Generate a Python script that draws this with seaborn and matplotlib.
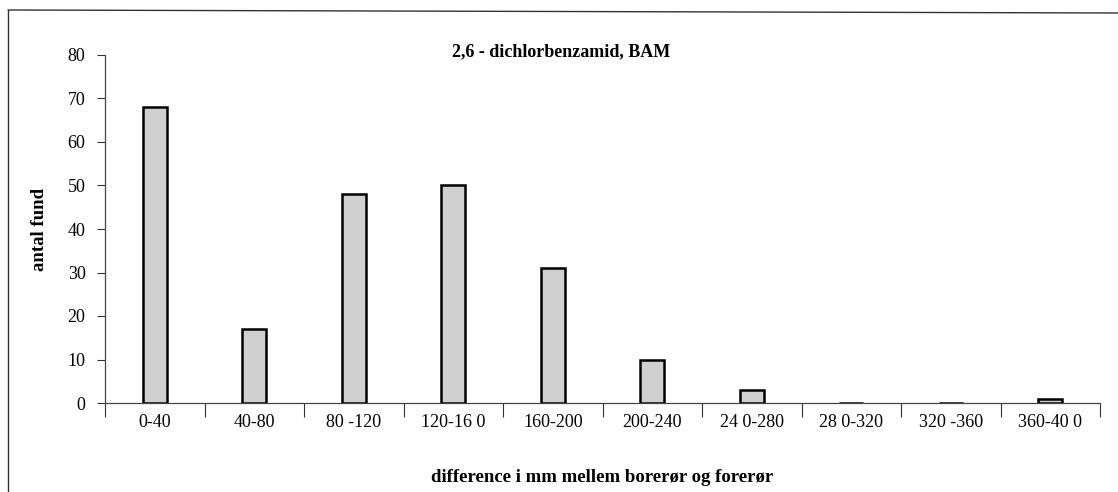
import matplotlib
matplotlib.use("Agg")
import matplotlib.pyplot as plt
import seaborn as sns
import pandas as pd
import numpy as np
from matplotlib.lines import Line2D

categories = ["0-40", "40-80", "80 -120", "120-16 0", "160-200", "200-240",
              "24 0-280", "28 0-320", "320 -360", "360-40 0"]
counts = [68, 17, 48, 50, 31, 10, 3, 0, 0, 1]
yticks = [0, 10, 20, 30, 40, 50, 60, 70, 80]
title = "2,6 - dichlorbenzamid, BAM"
xlabel = "difference i mm mellem borerør og forerør"
ylabel = "antal fund"

sns.set_style("white")
plt.rcParams['font.family'] = ['Liberation Serif', 'DejaVu Serif']
plt.rcParams['text.color'] = 'black'
plt.rcParams['axes.labelcolor'] = 'black'
plt.rcParams['xtick.color'] = 'black'
plt.rcParams['ytick.color'] = 'black'

df = pd.DataFrame({"cat": categories, "n": counts})

fig = plt.figure(figsize=(11.18, 4.92), dpi=100)
ax = fig.add_axes([105/1118, (492-403)/492, (1100-105)/1118, (403-55)/492])

sns.barplot(data=df, x="cat", y="n", ax=ax, width=0.24, color="#cfcfcf",
            edgecolor="black", linewidth=1.8, saturation=1)

ax.set_xlim(-0.5, len(categories) - 0.5)
ax.set_ylim(0, 80)
ax.set_yticks(yticks)
ax.set_yticklabels([str(v) for v in yticks], fontsize=13)

# x tick labels at category centers, tick marks at boundaries
ax.set_xticks(range(len(categories)))
ax.set_xticklabels(categories, fontsize=13)
ax.set_xticks(np.arange(-0.5, len(categories), 1.0), minor=True)
ax.tick_params(axis='x', which='both', bottom=True)
ax.tick_params(axis='y', which='both', left=True)
ax.tick_params(axis='x', which='major', length=0, pad=8)
ax.tick_params(axis='x', which='minor', length=10, width=0.8, color='#333333', direction='out')
ax.tick_params(axis='y', which='major', length=6, width=0.8, color='#333333', direction='out', pad=8)

for s in ["top", "right"]:
    ax.spines[s].set_visible(False)
for s in ["left", "bottom"]:
    ax.spines[s].set_visible(True)
    ax.spines[s].set_color("#444444")
    ax.spines[s].set_linewidth(0.9)

ax.set_xlabel(xlabel, fontsize=13.5, fontweight='bold', labelpad=27)
ax.set_ylabel(ylabel, fontsize=13.5, fontweight='bold', labelpad=14)
ax.text(0.458, 1.01, title, transform=ax.transAxes, ha='center', va='center',
        fontsize=13, fontweight='bold')

# outer frame (top and left edges of the scanned chart border)
fig.add_artist(Line2D([8/1118, 1.0], [1 - 10/492, 1 - 13/492], transform=fig.transFigure,
                      color='#333333', linewidth=1.0))
fig.add_artist(Line2D([8/1118, 8/1118], [1 - 10/492, 0.0], transform=fig.transFigure,
                      color='#333333', linewidth=1.0))

fig.savefig("out.png", dpi=100)
